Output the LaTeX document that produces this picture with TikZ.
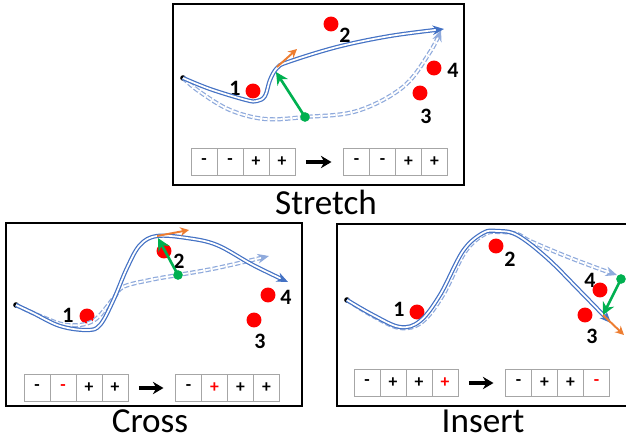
\documentclass[tikz,border=0pt]{standalone}
\usepackage{fontspec}
\setmainfont{Carlito}
\usetikzlibrary{arrows.meta, positioning}

\definecolor{azul}{HTML}{4472C4}
\definecolor{azulclaro}{HTML}{8FAADC}
\definecolor{verde}{HTML}{00B050}
\definecolor{naranja}{HTML}{ED7D31}
\definecolor{rojo}{HTML}{FF0000}

\begin{document}
\begin{tikzpicture}[x=0.02cm, y=-0.02cm, font=\bfseries\fontsize{12.5}{14}\selectfont,
    marco/.style={draw, line width=0.9pt},
    titulo/.style={anchor=base, inner sep=0pt, font=\fontsize{20}{24}\selectfont},
    obstaculo/.style={circle, fill=rojo, minimum size=8.5pt, inner sep=0pt},
    inicio/.style={circle, fill=black, minimum size=3.2pt, inner sep=0pt},
    punto/.style={circle, fill=verde, minimum size=5.5pt, inner sep=0pt},
    celda/.style={draw=gray!70, minimum width=0.52cm, minimum height=0.53cm,
        outer sep=0pt, inner sep=0pt, font=\bfseries\fontsize{10}{11}\selectfont},
    trayectoria/.style={draw=azul, line width=0.7pt, double=white, double distance=1pt,
        -{Stealth[length=6.5pt, width=5.5pt]}},
    previa/.style={trayectoria, draw=azulclaro, dash pattern=on 3pt off 1.3pt},
    flecha/.style={line width=1.8pt, -{Stealth[length=6pt, width=7pt]},
        shorten <=0.22cm, shorten >=0.24cm},
    normal/.style={verde, line width=1.5pt, -{Stealth[length=7pt, width=7pt]}},
    tangente/.style={naranja, line width=1.1pt, -{Stealth[length=5pt, width=5pt]}}]

    \useasboundingbox (0,0) rectangle (626,440);

    % #1 = nombre, #2 = colocacion, #3-#6 = signos
    \newcommand{\filasignos}[6]{%
        \node[celda, #2] (#1a) {#3};
        \node[celda, right=0pt of #1a] (#1b) {#4};
        \node[celda, right=0pt of #1b] (#1c) {#5};
        \node[celda, right=0pt of #1c] (#1d) {#6};}

    % Stretch
    \draw[marco] (173,4) rectangle (464,185);
    \node[obstaculo] (o11) at (253,91) {};
    \node[obstaculo] (o12) at (331,24) {};
    \node[obstaculo] (o13) at (420,93) {};
    \node[obstaculo] (o14) at (434,68) {};
    \node (e11) at (235,88) {1};
    \node (e12) at (345,35) {2};
    \node (e13) at (426,116) {3};
    \node (e14) at (453,70) {4};
    \node[inicio] (ini1) at (183,78) {};
    \draw[previa] plot[smooth, tension=0.6] coordinates {(ini1.center) (200,92) (230,110)
        (265,119) (305,117) (357,111) (403,87) (430,52) (441,30)};
    \draw[trayectoria] plot[smooth, tension=0.6] coordinates {(ini1.center) (210,89) (246,100)
        (257,101) (265,96) (270,80) (277,68) (288,62) (337,47) (390,36) (444,29)};
    \node[punto] (g1) at (305,117) {};
    \coordinate (c1) at (276,72);
    \draw[normal] (g1.center) -- (c1);
    \coordinate (t1) at (277,67);
    \coordinate (u1) at (297,49);
    \draw[tangente] (t1) -- (u1);
    \filasignos{s}{at={(204,162)}}{-}{-}{+}{+}
    \filasignos{t}{right=0.97cm of sd}{-}{-}{+}{+}
    \draw[flecha] (sd) -- (ta);
    \node[titulo] (tit1) at (326,214) {Stretch};

    % Cross
    \draw[marco] (6,223) rectangle (302,406);
    \node[obstaculo] (o21) at (87,316) {};
    \node[obstaculo] (o22) at (164,251) {};
    \node[obstaculo] (o23) at (254,320) {};
    \node[obstaculo] (o24) at (268,295) {};
    \node (e21) at (68,315) {1};
    \node (e22) at (179,261) {2};
    \node (e23) at (260,341) {3};
    \node (e24) at (286,297) {4};
    \node[inicio] (ini2) at (16,305) {};
    \draw[previa] plot[smooth, tension=0.6] coordinates {(ini2.center) (40,316) (67,325)
        (93,321) (113,299) (123,287) (150,280) (178,275) (217,268) (269,256)};
    \draw[trayectoria] plot[smooth, tension=0.6] coordinates {(ini2.center) (33,313) (60,326)
        (87,330) (100,325) (113,301) (127,268) (140,245) (157,236) (187,238) (217,245)
        (253,265) (288,282)};
    \node[punto] (g2) at (178,275) {};
    \coordinate (c2) at (158,238);
    \draw[normal] (g2.center) -- (c2);
    \coordinate (t2) at (157,236);
    \coordinate (u2) at (189,230);
    \draw[tangente] (t2) -- (u2);
    \filasignos{p}{at={(37,388)}}{-}{\textcolor{rojo}{-}}{+}{+}
    \filasignos{q}{right=0.95cm of pd}{-}{\textcolor{rojo}{+}}{+}{+}
    \draw[flecha] (pd) -- (qa);
    \node[titulo] (tit2) at (150,432) {Cross};

    % Insert
    \draw[marco] (640,224) -- (337,224) -- (337,406) -- (640,406);
    \node[obstaculo] (o31) at (417,312) {};
    \node[obstaculo] (o32) at (496,246) {};
    \node[obstaculo] (o33) at (585,315) {};
    \node[obstaculo] (o34) at (600,290) {};
    \node (e31) at (399,309) {1};
    \node (e32) at (510,259) {2};
    \node (e33) at (592,336) {3};
    \node (e34) at (590,280) {4};
    \node[inicio] (ini3) at (347,300) {};
    \draw[previa] plot[smooth, tension=0.6] coordinates {(ini3.center) (373,316) (400,328)
        (422,322) (443,295) (465,252) (485,234) (500,232) (517,234) (530,241) (563,255)
        (597,268) (617,275)};
    \draw[trayectoria] plot[smooth, tension=0.6] coordinates {(ini3.center) (373,315) (400,327)
        (420,321) (440,295) (463,251) (483,233) (497,231) (517,235) (547,258) (580,291)
        (611,323)};
    \node[punto] (g3) at (621,279) {};
    \coordinate (c3) at (603,315);
    \draw[normal] (g3.center) -- (c3);
    \coordinate (t3) at (603,315);
    \coordinate (u3) at (624,335);
    \draw[tangente] (t3) -- (u3);
    \filasignos{m}{at={(367,383)}}{-}{+}{+}{\textcolor{rojo}{+}}
    \filasignos{n}{right=0.95cm of md}{-}{+}{+}{\textcolor{rojo}{-}}
    \draw[flecha] (md) -- (na);
    \node[titulo] (tit3) at (483,432) {Insert};

\end{tikzpicture}
\end{document}
